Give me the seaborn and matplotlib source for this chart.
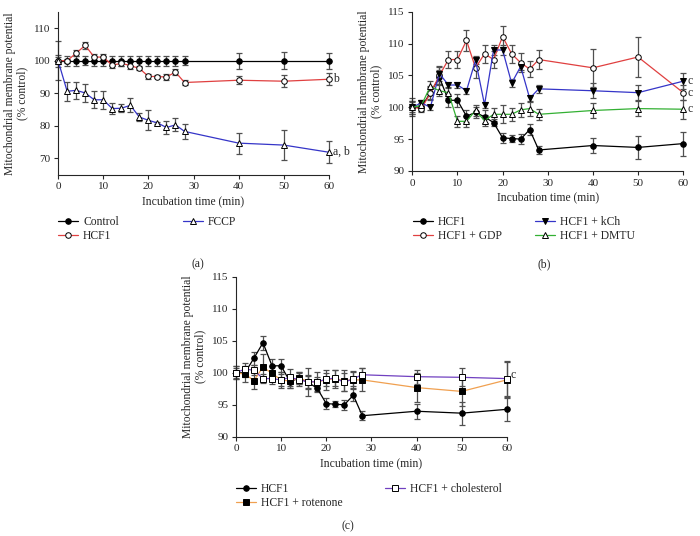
import numpy as np
import pandas as pd
import matplotlib
matplotlib.use('Agg')
import matplotlib.pyplot as plt
import seaborn as sns

sns.set_style('ticks')
plt.rcParams['font.family'] = ['Liberation Serif', 'DejaVu Serif']

time = [0, 2, 4, 6, 8, 10, 12, 14, 16, 18, 20, 22, 24, 26, 28, 40, 50, 60]

# panel (a)
control = [100] * 18
control_err = [1.8, 1.5, 1.5, 1.3, 1.5, 1.5, 1.5, 1.5, 1.5, 1.5, 1.5, 1.5, 1.5, 1.5, 1.3, 2.5, 2.6, 2.5]
hcf1 = [100, 100, 102.3, 104.7, 101.1, 101.1, 98.6, 99.2, 98.5, 97.6, 95.2, 95.1, 95.0, 96.5, 93.3, 94.0, 93.7, 94.3]
hcf1_err = [1.0, 0.6, 1.0, 1.1, 1.0, 1.0, 0.9, 0.9, 1.0, 0.6, 0.8, 0.5, 0.8, 0.9, 0.7, 1.2, 1.8, 1.9]
fccp = [100, 90.6, 90.9, 90.1, 88.0, 88.0, 85.3, 85.4, 86.3, 82.7, 81.7, 80.9, 79.5, 80.3, 78.3, 74.7, 74.1, 71.9]
fccp_err = [6.0, 3.0, 2.6, 2.8, 2.6, 2.7, 1.7, 1.2, 2.1, 1.1, 3.1, 0.4, 1.9, 2.0, 2.3, 3.2, 4.7, 3.4]

# panel (b)
gdp = [100, 99.8, 102.2, 105.0, 107.5, 107.5, 110.5, 106.2, 108.4, 107.5, 111.1, 108.4, 107.0, 106.0, 107.5, 106.2, 107.9, 102.3]
gdp_err = [1.4, 0.6, 1.0, 1.3, 1.4, 1.4, 1.6, 1.6, 1.4, 1.4, 1.7, 1.4, 1.5, 1.3, 1.5, 3.0, 3.1, 1.2]
kch = [100, 100.7, 100.0, 105.3, 103.5, 103.5, 102.6, 107.4, 100.4, 109.0, 109.0, 103.8, 106.4, 101.4, 102.9, 102.6, 102.3, 104.1]
kch_err = [0.8, 0.5, 0.4, 1.2, 0.5, 0.5, 0.5, 0.6, 0.5, 0.8, 0.8, 0.6, 0.6, 0.6, 0.6, 1.2, 1.2, 1.3]
dmtu = [100, 100.3, 103.3, 102.6, 102.3, 97.8, 97.8, 99.5, 97.9, 98.9, 98.9, 98.9, 99.6, 99.8, 98.9, 99.5, 99.8, 99.7]
dmtu_err = [1.0, 0.8, 0.9, 0.9, 0.9, 0.9, 0.9, 0.9, 0.9, 1.0, 1.4, 1.0, 1.1, 1.2, 0.9, 1.2, 1.2, 1.5]

# panel (c)
rotenone = [100, 99.8, 98.8, 100.9, 99.9, 98.9, 98.7, 99.2, 98.6, 98.6, 98.9, 99.1, 98.8, 98.9, 98.9, 97.7, 97.1, 98.9]
rotenone_err = [1.0, 1.2, 1.4, 2.0, 1.2, 1.3, 1.0, 1.0, 2.2, 1.5, 1.6, 1.4, 1.6, 1.2, 1.8, 2.3, 2.3, 2.8]
chol = [100, 100.6, 100.4, 99.1, 99.1, 98.9, 99.3, 98.9, 98.6, 98.6, 99.0, 99.2, 98.5, 99.1, 99.7, 99.4, 99.3, 99.1]
chol_err = [0.8, 0.9, 0.8, 0.7, 0.8, 0.9, 1.3, 1.0, 1.0, 0.7, 1.0, 1.2, 1.4, 1.2, 1.0, 1.1, 1.4, 2.7]

fig = plt.figure(figsize=(7, 5.36), dpi=100)


def draw(ax, series, ylim, yticks):
    for name, vals, err, color, marker, face in series:
        ax.errorbar(time, vals, yerr=err, fmt='none', ecolor='#505050',
                    elinewidth=0.9, capsize=2, capthick=0.9, clip_on=False, zorder=2)
        sns.lineplot(x=time, y=vals, ax=ax, color=color, marker=marker,
                     markerfacecolor=face, markeredgecolor='black', markeredgewidth=0.7,
                     markersize=4, linewidth=0.9, label=name, clip_on=False, zorder=3)
    if ax.get_legend() is not None:
        ax.get_legend().remove()
    ax.set_xlim(0, 60)
    ax.set_ylim(*ylim)
    ax.set_xticks([0, 10, 20, 30, 40, 50, 60])
    ax.set_yticks(yticks)
    ax.tick_params(labelsize=8, length=3, width=0.8, pad=2.5)
    ax.set_xlabel('Incubation time (min)', fontsize=8.4, labelpad=3)
    ax.set_ylabel('Mitochondrial membrane potential\n(% control)', fontsize=8.4,
                  linespacing=1.0, labelpad=4)
    sns.despine(ax=ax)


def legend_cols(ax, split, x1, x2, top):
    handles, labels = ax.get_legend_handles_labels()
    opts = dict(loc='upper left', frameon=False, fontsize=8.4, handlelength=1.7,
                handletextpad=0.45, labelspacing=0.15, borderpad=0, borderaxespad=0)
    fig.legend(handles[:split], labels[:split], bbox_to_anchor=(x1, top), **opts)
    fig.legend(handles[split:], labels[split:], bbox_to_anchor=(x2, top), **opts)


ax1 = fig.add_axes([0.083, 0.674, 0.387, 0.304])
draw(ax1, [('Control', control, control_err, 'black', 'o', 'black'),
           ('HCF1', hcf1, hcf1_err, '#e04040', 'o', 'white'),
           ('FCCP', fccp, fccp_err, '#3535c8', '^', 'white')],
     (65, 115), [70, 80, 90, 100, 110])
ax1.text(60.9, 94.3, 'b', fontsize=8.4, va='center')
ax1.text(60.9, 72.0, 'a, b', fontsize=8.4, va='center')
legend_cols(ax1, 2, 0.083, 0.261, 0.597)
fig.text(0.282, 0.506, '(a)', fontsize=8.4, ha='center', va='center')

ax2 = fig.add_axes([0.589, 0.681, 0.387, 0.297])
draw(ax2, [('HCF1', hcf1, hcf1_err, 'black', 'o', 'black'),
           ('HCF1 + GDP', gdp, gdp_err, '#e04040', 'o', 'white'),
           ('HCF1 + kCh', kch, kch_err, '#3535c8', 'v', 'black'),
           ('HCF1 + DMTU', dmtu, dmtu_err, '#33b033', '^', 'white')],
     (90, 115), [90, 95, 100, 105, 110, 115])
ax2.text(60.9, 104.1, 'c', fontsize=8.4, va='center')
ax2.text(60.9, 102.3, 'c', fontsize=8.4, va='center')
ax2.text(60.9, 99.7, 'c', fontsize=8.4, va='center')
legend_cols(ax2, 2, 0.590, 0.764, 0.597)
fig.text(0.777, 0.506, '(b)', fontsize=8.4, ha='center', va='center')

ax3 = fig.add_axes([0.337, 0.185, 0.387, 0.2985])
draw(ax3, [('HCF1', hcf1, hcf1_err, 'black', 'o', 'black'),
           ('HCF1 + rotenone', rotenone, rotenone_err, '#f0a050', 's', 'black'),
           ('HCF1 + cholesterol', chol, chol_err, '#7040c0', 's', 'white')],
     (90, 115), [90, 95, 100, 105, 110, 115])
ax3.text(60.9, 99.7, 'c', fontsize=8.4, va='center')
legend_cols(ax3, 2, 0.337, 0.550, 0.099)
fig.text(0.497, 0.018, '(c)', fontsize=8.4, ha='center', va='center')

fig.savefig('out.png', dpi=100)
